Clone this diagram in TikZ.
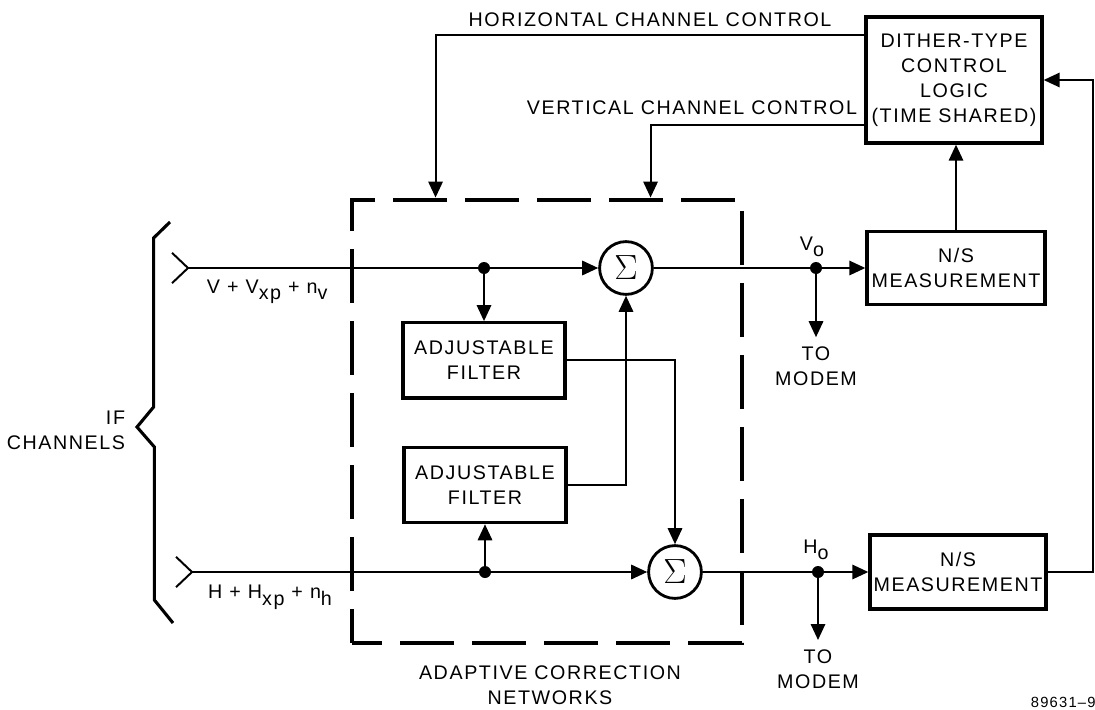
\documentclass[tikz,border=0pt]{standalone}
\usepackage{fontspec}
\setmainfont{Liberation Sans}[LetterSpace=8]
\usetikzlibrary{arrows.meta,positioning,calc}
\newcommand{\lblfont}{\fontsize{14}{17.8}\selectfont}
\newcommand{\lowsub}[1]{\raisebox{-0.6ex}{#1}}

\begin{document}
\begin{tikzpicture}[
  >={Triangle[length=0.4cm,width=0.36cm]},
  blkbox/.style={
    draw,
    line width=2.4pt,
    minimum width=4.4cm,
    minimum height=1.85cm,
    inner sep=2pt,
    align=center,
    font=\lblfont
  },
  sumnode/.style={circle, draw, line width=2pt, minimum size=1.32cm, inner sep=0pt,
    font=\fontsize{24}{24}\selectfont},
  jdot/.style={circle, fill, minimum size=0.3cm, inner sep=0pt},
  txt/.style={align=center, font=\lblfont},
  wire/.style={line width=1.4pt},
  flow/.style={->, line width=1.4pt}
]
\useasboundingbox (0,0) rectangle (27.375,-17.725);

% -------- Adaptive correction networks --------
\node[draw, line width=3.5pt, dash pattern=on 1.35cm off 0.45cm, dash phase=0.6cm,
  minimum width=9.75cm, minimum height=11.075cm, inner sep=0pt] (acn) at (13.675,-10.5375) {};
\node[txt] (acnlbl) at (13.75,-17.125) {ADAPTIVE CORRECTION\\NETWORKS};

\node[blkbox, minimum width=4.05cm, minimum height=1.88cm] (filtv) at (12.1,-9.01) {ADJUSTABLE\\FILTER};
\node[blkbox, minimum width=4.05cm, minimum height=1.88cm] (filth) at (12.125,-12.125) {ADJUSTABLE\\FILTER};

\node[sumnode] (sumv) at (15.65,-6.7) {$\Sigma$};
\node[sumnode] (sumh) at (16.875,-14.3) {$\Sigma$};

\node[jdot] (jv) at (12.1,-6.7) {};
\node[jdot] (jh) at (12.125,-14.3) {};

% -------- Inputs --------
\coordinate (inv) at (4.7,-6.7);
\coordinate (inh) at (4.8,-14.3);
\node[txt] (vin) at (6.68,-7.3) {V + V\lowsub{xp} + n\lowsub{v}};
\node[txt] (hin) at (6.75,-14.93) {H + H\lowsub{xp} + n\lowsub{h}};
\node[txt, anchor=east, align=right] (ifch) at (3.25,-10.75) {IF\\CHANNELS};
\draw[line width=2.2pt] (4.25,-5.55) -- (3.84,-5.95) -- (3.84,-10.175) -- (3.425,-10.675)
  -- (3.86,-11.175) -- (3.86,-15.0) -- (4.325,-15.575);

% -------- Measurement and control --------
\node[blkbox, minimum width=4.45cm, minimum height=1.83cm] (nsv) at (23.9,-6.7) {N/S\\MEASUREMENT};
\node[blkbox] (nsh) at (23.95,-14.3) {N/S\\MEASUREMENT};
\node[blkbox, minimum height=3.15cm] (dither) at (23.85,-2.0)
  {DITHER-TYPE\\CONTROL\\LOGIC\\(TIME SHARED)};

\node[jdot] (jvo) at (20.4,-6.7) {};
\node[jdot] (jho) at (20.45,-14.3) {};
\node[txt] (vo) at (20.3,-6.17) {V\lowsub{o}};
\node[txt] (ho) at (20.4,-13.75) {H\lowsub{o}};

\coordinate (modv) at (20.4,-8.43);
\coordinate (modh) at (20.45,-16.0);
\node[txt, below=0.12cm of modv] (modvt) {TO\\MODEM};
\node[txt, below=0.12cm of modh] (modht) {TO\\MODEM};

\node[txt] (hcc) at (16.25,-0.5) {HORIZONTAL CHANNEL CONTROL};
\node[txt] (vcc) at (17.3,-2.7) {VERTICAL CHANNEL CONTROL};
\node[anchor=west, font=\fontsize{10.5}{12}\selectfont] (fignum) at (25.65,-17.55) {89631--9};

% -------- Connections --------
\draw[wire] ([shift={(-0.4,0.38)}]inv) -- (inv) -- ([shift={(-0.4,-0.38)}]inv);
\draw[wire] ([shift={(-0.4,0.38)}]inh) -- (inh) -- ([shift={(-0.4,-0.38)}]inh);
\draw[wire] (inv) -- (jv);
\draw[wire] (inh) -- (jh);
\draw[flow] (jv) -- (sumv);
\draw[flow] (jh) -- (sumh);
\draw[flow] (jv) -- (filtv);
\draw[flow] (jh) -- (filth);
\draw[flow] (filtv.east) -| (sumh);
\draw[flow] (filth.east) -| (sumv);
\draw[wire] (sumv) -- (jvo);
\draw[wire] (sumh) -- (jho);
\draw[flow] (jvo) -- (nsv);
\draw[flow] (jho) -- (nsh);
\draw[flow] (jvo) -- (modv);
\draw[flow] (jho) -- (modh);
\draw[flow] (nsv.north) -- (nsv.north |- dither.south);
\draw[flow] ([yshift=1.125cm]dither.west) -| ([xshift=2.15cm]acn.north west);
\draw[flow] ([yshift=-1.125cm]dither.west) -| ([xshift=7.525cm]acn.north west);
\coordinate (fb) at (27.325,-14.3);
\draw[flow] (nsh) -- (fb) |- (dither);

\end{tikzpicture}
\end{document}
